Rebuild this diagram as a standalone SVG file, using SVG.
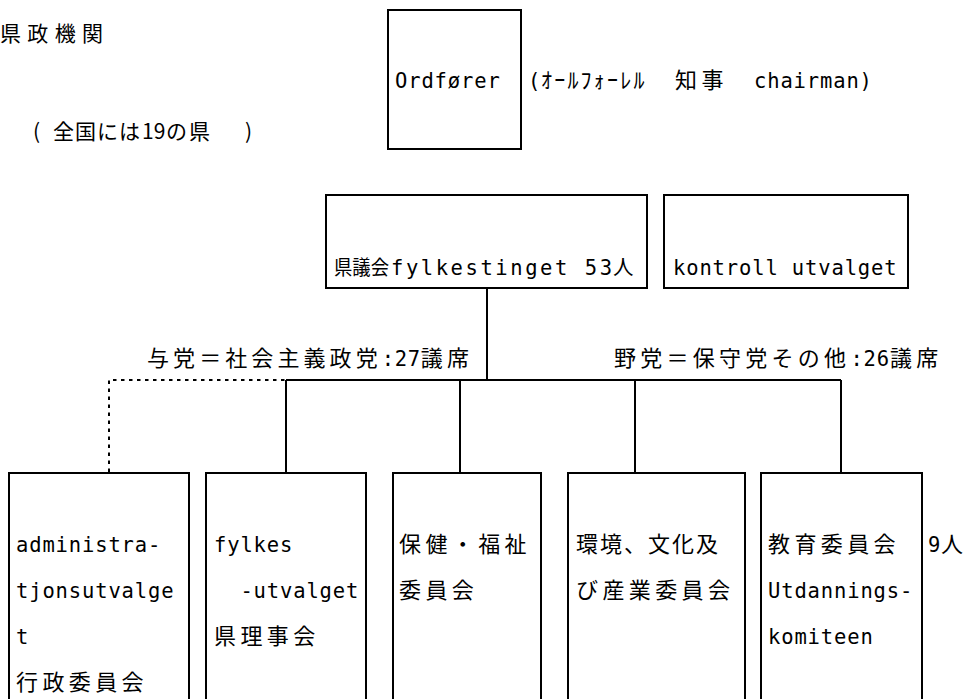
<svg xmlns="http://www.w3.org/2000/svg" width="970" height="699" viewBox="0 0 970 699">
<style>
.l{font-family:"DejaVu Sans Mono","Noto Sans CJK JP",monospace;font-size:20.5px;letter-spacing:0.86px;fill:#000}
.j{font-family:"Noto Sans CJK JP","Noto Sans CJK SC",sans-serif;font-size:22px;letter-spacing:4.4px;fill:#000}
.jn{font-family:"Noto Sans CJK JP","Noto Sans CJK SC",sans-serif;font-size:21px;letter-spacing:0;fill:#000}
.jh{font-family:"Noto Sans CJK JP","Noto Sans CJK SC",sans-serif;font-size:22px;letter-spacing:2.2px;fill:#000}
.box{fill:#fff;stroke:#000;stroke-width:2}
.ln{stroke:#000;stroke-width:2;fill:none}
.dot{stroke:#000;stroke-width:2;fill:none;stroke-dasharray:3.5 4.5}
</style>
<rect width="970" height="699" fill="#fff"/>

<g id="title">
<text class="jn" x="0" y="41" textLength="103" lengthAdjust="spacing">県政機関</text>
<text class="jn" y="139"><tspan x="33">(</tspan><tspan x="53" style="letter-spacing:1px">全国には</tspan><tspan x="142">19</tspan><tspan x="166" style="letter-spacing:2px">の県</tspan><tspan x="245">)</tspan></text>
</g>

<g id="connectors">
<path class="dot" d="M109,472 V380 H286"/>
<path class="ln" d="M487,288 V380 M286,380 H841 M286,380 V473 M460,380 V473 M635,380 V473 M841,380 V473"/>
</g>

<g id="ordforer">
<rect class="box" x="388" y="10" width="133" height="139"/>
<text class="l" x="395" y="88">Ordfører</text>
</g>
<g id="ordforer-note">
<text y="88"><tspan class="l" x="528">(</tspan><tspan class="jh" x="541">ｵｰﾙﾌｫｰﾚﾙ</tspan><tspan class="j" x="675">知事</tspan><tspan class="l" x="754">chairman)</tspan></text>
</g>

<g id="fylkestinget">
<rect class="box" x="326" y="195" width="321" height="93"/>
<text y="275"><tspan class="jn" x="334" textLength="55" lengthAdjust="spacingAndGlyphs" style="font-size:20.5px">県議会</tspan><tspan class="l" x="391" textLength="221" lengthAdjust="spacing" style="letter-spacing:0">fylkestinget 53</tspan><tspan class="j" x="613" style="font-size:20.5px">人</tspan></text>
</g>

<g id="kontroll">
<rect class="box" x="664" y="195" width="244" height="93"/>
<text class="l" x="673" y="275">kontroll utvalget</text>
</g>

<g id="labels">
<text y="366"><tspan class="j" x="147" style="letter-spacing:4.08px">与党＝社会主義政党</tspan><tspan class="l" x="381.7" style="letter-spacing:0.7px">:27</tspan><tspan class="j" x="420.8" style="letter-spacing:4.08px">議席</tspan></text>
<text y="366"><tspan class="j" x="614" style="letter-spacing:4.24px">野党＝保守党その他</tspan><tspan class="l" x="850.5" style="letter-spacing:0.78px">:26</tspan><tspan class="j" x="889.9" style="letter-spacing:4.24px">議席</tspan></text>
</g>

<g id="administrasjon">
<rect class="box" x="9" y="473" width="180" height="240"/>
<text class="l" x="16" y="552">administra-</text>
<text class="l" x="16" y="598">tjonsutvalge</text>
<text class="l" x="16" y="644">t</text>
<text class="j" x="16" y="690">行政委員会</text>
</g>

<g id="fylkesutvalget">
<rect class="box" x="206" y="473" width="160" height="240"/>
<text class="l" x="214" y="552">fylkes</text>
<text class="l" x="240.4" y="598">-utvalget</text>
<text class="j" x="214" y="644">県理事会</text>
</g>

<g id="helse">
<rect class="box" x="393" y="473" width="148" height="240"/>
<text class="j" x="399" y="552">保健・福祉</text>
<text class="j" x="399" y="598">委員会</text>
</g>

<g id="miljo">
<rect class="box" x="568" y="473" width="177" height="240"/>
<text class="j" x="576" y="552" style="letter-spacing:2px">環境、文化及</text>
<text class="j" x="576" y="598">び産業委員会</text>
</g>

<g id="utdanning">
<rect class="box" x="761" y="473" width="161" height="240"/>
<text class="j" x="768" y="552">教育委員会</text>
<text class="l" x="768" y="598">Utdannings-</text>
<text class="l" x="768" y="644">komiteen</text>
</g>

<g id="note-9">
<text y="552"><tspan class="l" x="928">9</tspan><tspan class="j" x="941">人</tspan></text>
</g>
</svg>
